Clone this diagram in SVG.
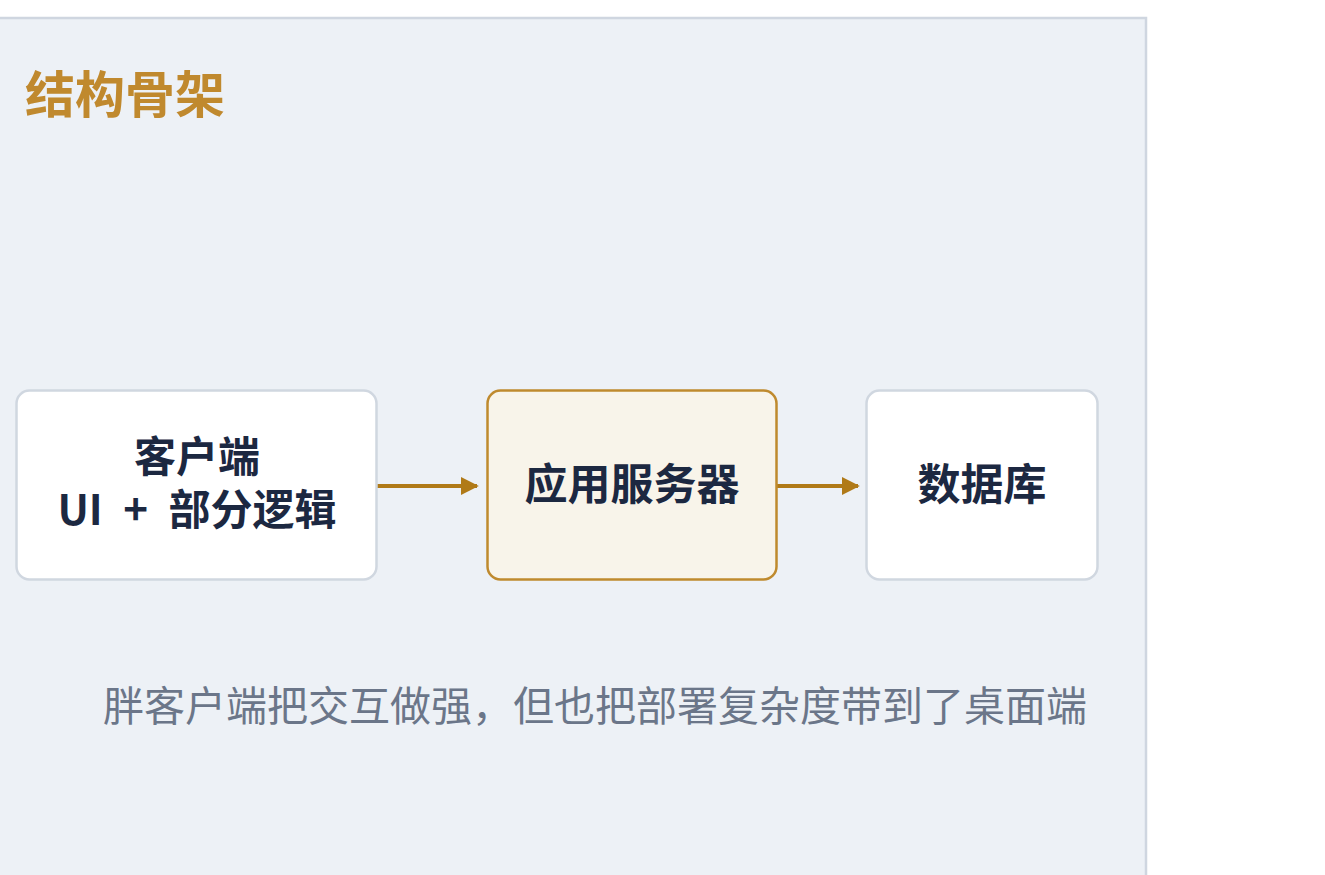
<svg xmlns="http://www.w3.org/2000/svg" width="1325" height="875" viewBox="0 0 1325 875">
<defs>
<style>
.node{stroke-width:2.5}
.lbl{font-family:"Noto Sans CJK SC","Noto Sans",sans-serif;font-weight:700;fill:#1c2841;text-anchor:middle}
.conn{stroke:#b07a18;stroke-width:4;fill:none}
</style>
<marker id="ah" viewBox="0 0 10 10" refX="9" refY="5" markerWidth="4.5" markerHeight="4.5" markerUnits="strokeWidth" orient="auto">
<path d="M0,0 L10,5 L0,10 z" fill="#b07a18"/>
</marker>
</defs>
<rect width="1325" height="875" fill="#ffffff"/>
<g id="panel">
<rect x="-20" y="18" width="1166" height="900" fill="#edf1f6" stroke="#cfd6e0" stroke-width="2.5"/>
<text x="25" y="113" font-family="'Noto Sans CJK SC','Noto Sans',sans-serif" font-weight="700" font-size="50" fill="#c0892e">结构骨架</text>
</g>
<g id="connectors">
<line class="conn" x1="377" y1="486" x2="477" y2="486" marker-end="url(#ah)"/>
<line class="conn" x1="774" y1="486" x2="858" y2="486" marker-end="url(#ah)"/>
</g>
<g id="client">
<rect class="node" x="16.5" y="390.5" width="360" height="189" rx="13" fill="#ffffff" stroke="#d0d7e0"/>
<text class="lbl" x="197" y="472" font-size="42">客户端</text>
<text class="lbl" x="197" y="525" font-size="42" word-spacing="11">UI + 部分逻辑</text>
</g>
<g id="server">
<rect class="node" x="487.5" y="390.5" width="289" height="189" rx="13" fill="#f8f4ea" stroke="#bf8a2e"/>
<text class="lbl" x="632" y="500" font-size="43">应用服务器</text>
</g>
<g id="database">
<rect class="node" x="866.5" y="390.5" width="231" height="189" rx="13" fill="#ffffff" stroke="#d0d7e0"/>
<text class="lbl" x="982" y="500" font-size="43">数据库</text>
</g>
<g id="caption">
<text x="595" y="721" font-family="'Noto Sans CJK SC','Noto Sans',sans-serif" font-size="41" fill="#6b7689" text-anchor="middle">胖客户端把交互做强，但也把部署复杂度带到了桌面端</text>
</g>
</svg>
